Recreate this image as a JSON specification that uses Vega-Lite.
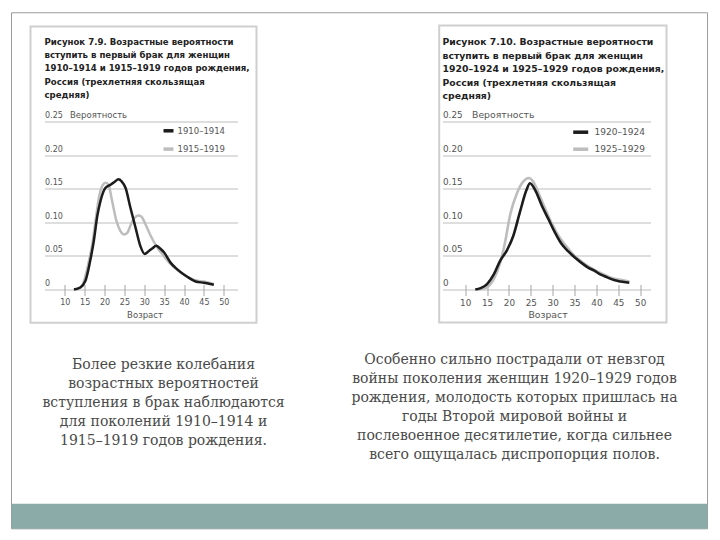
{
  "$schema": "https://vega.github.io/schema/vega-lite/v6.json",
  "background": "white",
  "padding": {"left": 10.5, "top": 11.5, "right": 12.5, "bottom": 11.5},
  "bounds": "flush",
  "spacing": 205,
  "config": {"view": {"stroke": null}},
  "resolve": {"scale": {"color": "independent"}, "legend": {"color": "independent"}},
  "hconcat": [
    {
      "width": 193,
      "height": 168,
      "resolve": {"axis": {"x": "independent", "y": "independent"}},
      "layer": [
        {
          "data": {"values": [
            {"cohort": "1915–1919", "age": 12.7, "p": 0},
            {"cohort": "1915–1919", "age": 14.0, "p": 0.003},
            {"cohort": "1915–1919", "age": 14.8, "p": 0.012},
            {"cohort": "1915–1919", "age": 15.8, "p": 0.035},
            {"cohort": "1915–1919", "age": 16.9, "p": 0.067},
            {"cohort": "1915–1919", "age": 17.8, "p": 0.105},
            {"cohort": "1915–1919", "age": 18.6, "p": 0.137},
            {"cohort": "1915–1919", "age": 19.5, "p": 0.155},
            {"cohort": "1915–1919", "age": 20.3, "p": 0.159},
            {"cohort": "1915–1919", "age": 21.0, "p": 0.156},
            {"cohort": "1915–1919", "age": 21.9, "p": 0.132},
            {"cohort": "1915–1919", "age": 23.0, "p": 0.102},
            {"cohort": "1915–1919", "age": 24.0, "p": 0.087},
            {"cohort": "1915–1919", "age": 25.0, "p": 0.082},
            {"cohort": "1915–1919", "age": 25.8, "p": 0.085},
            {"cohort": "1915–1919", "age": 26.5, "p": 0.095},
            {"cohort": "1915–1919", "age": 27.5, "p": 0.106},
            {"cohort": "1915–1919", "age": 28.5, "p": 0.11},
            {"cohort": "1915–1919", "age": 29.2, "p": 0.109},
            {"cohort": "1915–1919", "age": 30.3, "p": 0.097},
            {"cohort": "1915–1919", "age": 31.6, "p": 0.08},
            {"cohort": "1915–1919", "age": 33.2, "p": 0.063},
            {"cohort": "1915–1919", "age": 34.9, "p": 0.05},
            {"cohort": "1915–1919", "age": 36.6, "p": 0.038},
            {"cohort": "1915–1919", "age": 38.7, "p": 0.027},
            {"cohort": "1915–1919", "age": 40.8, "p": 0.019},
            {"cohort": "1915–1919", "age": 43.3, "p": 0.013},
            {"cohort": "1915–1919", "age": 45.0, "p": 0.012},
            {"cohort": "1915–1919", "age": 47.5, "p": 0.008},
            {"cohort": "1910–1914", "age": 12.3, "p": 0},
            {"cohort": "1910–1914", "age": 13.9, "p": 0.003},
            {"cohort": "1910–1914", "age": 15.2, "p": 0.013},
            {"cohort": "1910–1914", "age": 16.3, "p": 0.04},
            {"cohort": "1910–1914", "age": 17.3, "p": 0.072},
            {"cohort": "1910–1914", "age": 18.2, "p": 0.11},
            {"cohort": "1910–1914", "age": 19.0, "p": 0.132},
            {"cohort": "1910–1914", "age": 20.2, "p": 0.151},
            {"cohort": "1910–1914", "age": 21.5, "p": 0.156},
            {"cohort": "1910–1914", "age": 22.5, "p": 0.16},
            {"cohort": "1910–1914", "age": 23.5, "p": 0.164},
            {"cohort": "1910–1914", "age": 24.3, "p": 0.161},
            {"cohort": "1910–1914", "age": 25.3, "p": 0.151},
            {"cohort": "1910–1914", "age": 26.5, "p": 0.122},
            {"cohort": "1910–1914", "age": 27.8, "p": 0.092},
            {"cohort": "1910–1914", "age": 29.0, "p": 0.065},
            {"cohort": "1910–1914", "age": 30.1, "p": 0.053},
            {"cohort": "1910–1914", "age": 31.1, "p": 0.057},
            {"cohort": "1910–1914", "age": 32.0, "p": 0.061},
            {"cohort": "1910–1914", "age": 33.0, "p": 0.065},
            {"cohort": "1910–1914", "age": 34.0, "p": 0.061},
            {"cohort": "1910–1914", "age": 35.0, "p": 0.055},
            {"cohort": "1910–1914", "age": 36.6, "p": 0.04},
            {"cohort": "1910–1914", "age": 38.3, "p": 0.03},
            {"cohort": "1910–1914", "age": 40.8, "p": 0.019},
            {"cohort": "1910–1914", "age": 42.9, "p": 0.012},
            {"cohort": "1910–1914", "age": 45.0, "p": 0.01},
            {"cohort": "1910–1914", "age": 47.5, "p": 0.007}
          ]},
          "mark": {"type": "line", "interpolate": "monotone", "strokeWidth": 2.5},
          "encoding": {
            "x": {"field": "age", "type": "quantitative", "scale": {"domain": [4.9, 53.45], "nice": false, "zero": false},
              "axis": {"orient": "bottom", "title": "Возраст", "values": [10, 15, 20, 25, 30, 35, 40, 45, 50], "labelOverlap": false, "domain": false, "grid": false, "ticks": true, "tickSize": 11, "tickColor": "#a5a5a5", "tickWidth": 1, "offset": -5, "labelPadding": 3, "labelFont": "DejaVu Sans", "labelFontSize": 8, "labelColor": "#555", "labelFlush": false, "titleFont": "DejaVu Sans", "titleFontSize": 8.5, "titleFontWeight": "normal", "titleColor": "#555", "titleX": 100, "titleY": 30, "titleBaseline": "middle"}},
            "y": {"field": "p", "type": "quantitative", "scale": {"domain": [0, 0.25], "nice": false},
              "axis": {"orient": "left", "title": "Вероятность", "values": [0, 0.05, 0.1, 0.15, 0.2, 0.25], "labelOverlap": false, "grid": true, "gridColor": "#bdbdbd", "gridWidth": 1, "domain": false, "ticks": false, "labelAlign": "left", "labelPadding": 0, "labelBaseline": "alphabetic", "labelOffset": -4, "labelFont": "DejaVu Sans", "labelFontSize": 8, "labelColor": "#555", "labelExpr": "datum.value == 0 ? '\u00a0\u00a0\u00a0\u00a0\u00a00' : format(datum.value, '.2f')", "titleAngle": 0, "titleAlign": "left", "titleBaseline": "alphabetic", "titleX": 25, "titleY": -4, "titleFont": "DejaVu Sans", "titleFontSize": 8.5, "titleFontWeight": "normal", "titleColor": "#555"}},
            "color": {"field": "cohort", "type": "nominal", "scale": {"domain": ["1910–1914", "1915–1919"], "range": ["#1c1c1c", "#bdbdbd"]},
              "legend": {"orient": "none", "legendX": 117, "legendY": 2.3, "title": null, "symbolType": "stroke", "symbolSize": 100, "symbolStrokeWidth": 3.5, "labelFont": "DejaVu Sans", "labelFontSize": 8.5, "labelColor": "#555", "rowPadding": 4.3, "padding": 0, "labelOffset": 2}}
          }
        },
        {
          "data": {"values": [{}]},
          "mark": {"type": "rect", "filled": false, "stroke": "#9a9a9a", "strokeWidth": 1},
          "encoding": {
            "x": {"datum": -3.4, "type": "quantitative", "scale": {"domain": [4.9, 53.45], "nice": false, "zero": false}, "axis": null},
            "x2": {"datum": 171.69},
            "y": {"datum": 0.4118, "type": "quantitative", "scale": {"domain": [0, 0.25], "nice": false}, "axis": null},
            "y2": {"datum": -0.3561}
          }
        },
        {
          "data": {"values": [{}]},
          "mark": {"type": "rect", "fill": "#8aaba8"},
          "encoding": {
            "x": {"datum": -3.4, "type": "quantitative", "scale": {"domain": [4.9, 53.45], "nice": false, "zero": false}, "axis": null},
            "x2": {"datum": 171.69},
            "y": {"datum": -0.3189, "type": "quantitative", "scale": {"domain": [0, 0.25], "nice": false}, "axis": null},
            "y2": {"datum": -0.3561}
          }
        },
        {
          "data": {"values": [{}]},
          "mark": {"type": "rect", "filled": false, "stroke": "#cfcfcf", "strokeWidth": 2},
          "encoding": {
            "x": {"datum": 1.38, "type": "quantitative", "scale": {"domain": [4.9, 53.45], "nice": false, "zero": false}, "axis": null},
            "x2": {"datum": 58.23},
            "y": {"datum": 0.3914, "type": "quantitative", "scale": {"domain": [0, 0.25], "nice": false}, "axis": null},
            "y2": {"datum": -0.0496}
          }
        },
        {
          "data": {"values": [{}]},
          "mark": {"type": "text", "text": ["Рисунок 7.9. Возрастные вероятности", "вступить в первый брак для женщин", "1910–1914 и 1915–1919 годов рождения,", "Россия (трехлетняя скользящая", "средняя)"], "font": "DejaVu Sans", "fontSize": 8.6, "fontWeight": "bold", "lineHeight": 13.45, "align": "left", "baseline": "middle", "color": "#222"},
          "encoding": {
            "x": {"datum": 4.9, "type": "quantitative", "scale": {"domain": [4.9, 53.45], "nice": false, "zero": false}, "axis": null},
            "y": {"datum": 0.369, "type": "quantitative", "scale": {"domain": [0, 0.25], "nice": false}, "axis": null}
          }
        },
        {
          "data": {"values": [{}]},
          "mark": {"type": "text", "text": ["Более резкие колебания", "возрастных вероятностей", "вступления в брак наблюдаются", "для поколений 1910–1914 и", "1915–1919 годов рождения."], "font": "DejaVu Serif", "fontSize": 14, "lineHeight": 19, "align": "center", "baseline": "middle", "color": "#4a4a4a"},
          "encoding": {
            "x": {"datum": 34.84, "type": "quantitative", "scale": {"domain": [4.9, 53.45], "nice": false, "zero": false}, "axis": null},
            "y": {"datum": -0.1121, "type": "quantitative", "scale": {"domain": [0, 0.25], "nice": false}, "axis": null}
          }
        }
      ]
    },
    {
      "width": 208,
      "height": 168,
      "resolve": {"axis": {"x": "independent", "y": "independent"}},
      "layer": [
        {
          "data": {"values": [
            {"cohort": "1925–1929", "age": 12.7, "p": 0},
            {"cohort": "1925–1929", "age": 14.5, "p": 0.002},
            {"cohort": "1925–1929", "age": 15.5, "p": 0.006},
            {"cohort": "1925–1929", "age": 16.5, "p": 0.015},
            {"cohort": "1925–1929", "age": 18.0, "p": 0.04},
            {"cohort": "1925–1929", "age": 19.1, "p": 0.07},
            {"cohort": "1925–1929", "age": 20.3, "p": 0.112},
            {"cohort": "1925–1929", "age": 21.8, "p": 0.143},
            {"cohort": "1925–1929", "age": 23.3, "p": 0.161},
            {"cohort": "1925–1929", "age": 24.5, "p": 0.166},
            {"cohort": "1925–1929", "age": 25.6, "p": 0.16},
            {"cohort": "1925–1929", "age": 26.8, "p": 0.143},
            {"cohort": "1925–1929", "age": 28.3, "p": 0.12},
            {"cohort": "1925–1929", "age": 29.8, "p": 0.098},
            {"cohort": "1925–1929", "age": 31.3, "p": 0.08},
            {"cohort": "1925–1929", "age": 32.9, "p": 0.066},
            {"cohort": "1925–1929", "age": 34.4, "p": 0.054},
            {"cohort": "1925–1929", "age": 36.7, "p": 0.041},
            {"cohort": "1925–1929", "age": 39.0, "p": 0.031},
            {"cohort": "1925–1929", "age": 41.2, "p": 0.024},
            {"cohort": "1925–1929", "age": 43.5, "p": 0.017},
            {"cohort": "1925–1929", "age": 45.8, "p": 0.014},
            {"cohort": "1925–1929", "age": 47.5, "p": 0.012},
            {"cohort": "1920–1924", "age": 12.3, "p": 0},
            {"cohort": "1920–1924", "age": 13.5, "p": 0.002},
            {"cohort": "1920–1924", "age": 15.0, "p": 0.008},
            {"cohort": "1920–1924", "age": 16.5, "p": 0.022},
            {"cohort": "1920–1924", "age": 18.0, "p": 0.043},
            {"cohort": "1920–1924", "age": 19.5, "p": 0.058},
            {"cohort": "1920–1924", "age": 21.0, "p": 0.08},
            {"cohort": "1920–1924", "age": 22.5, "p": 0.115},
            {"cohort": "1920–1924", "age": 24.0, "p": 0.148},
            {"cohort": "1920–1924", "age": 24.8, "p": 0.158},
            {"cohort": "1920–1924", "age": 26.0, "p": 0.148},
            {"cohort": "1920–1924", "age": 27.5, "p": 0.125},
            {"cohort": "1920–1924", "age": 29.0, "p": 0.105},
            {"cohort": "1920–1924", "age": 30.5, "p": 0.085},
            {"cohort": "1920–1924", "age": 32.0, "p": 0.068},
            {"cohort": "1920–1924", "age": 33.5, "p": 0.057},
            {"cohort": "1920–1924", "age": 35.0, "p": 0.048},
            {"cohort": "1920–1924", "age": 36.5, "p": 0.04},
            {"cohort": "1920–1924", "age": 38.0, "p": 0.033},
            {"cohort": "1920–1924", "age": 39.5, "p": 0.028},
            {"cohort": "1920–1924", "age": 41.0, "p": 0.022},
            {"cohort": "1920–1924", "age": 42.5, "p": 0.018},
            {"cohort": "1920–1924", "age": 44.0, "p": 0.014},
            {"cohort": "1920–1924", "age": 45.5, "p": 0.012},
            {"cohort": "1920–1924", "age": 47.5, "p": 0.01}
          ]},
          "mark": {"type": "line", "interpolate": "monotone", "strokeWidth": 2.6},
          "encoding": {
            "x": {"field": "age", "type": "quantitative", "scale": {"domain": [4.81, 52.35], "nice": false, "zero": false},
              "axis": {"orient": "bottom", "title": "Возраст", "values": [10, 15, 20, 25, 30, 35, 40, 45, 50], "labelOverlap": false, "domain": false, "grid": false, "ticks": true, "tickSize": 11, "tickColor": "#a5a5a5", "tickWidth": 1, "offset": -5, "labelPadding": 3, "labelFont": "DejaVu Sans", "labelFontSize": 8.8, "labelColor": "#555", "labelFlush": false, "titleFont": "DejaVu Sans", "titleFontSize": 9.3, "titleFontWeight": "normal", "titleColor": "#555", "titleX": 105, "titleY": 30, "titleBaseline": "middle"}},
            "y": {"field": "p", "type": "quantitative", "scale": {"domain": [0, 0.25], "nice": false},
              "axis": {"orient": "left", "title": "Вероятность", "values": [0, 0.05, 0.1, 0.15, 0.2, 0.25], "labelOverlap": false, "grid": true, "gridColor": "#bdbdbd", "gridWidth": 1, "domain": false, "ticks": false, "labelAlign": "left", "labelPadding": 0, "labelBaseline": "alphabetic", "labelOffset": -4, "labelFont": "DejaVu Sans", "labelFontSize": 8.8, "labelColor": "#555", "labelExpr": "datum.value == 0 ? '\u00a0\u00a0\u00a0\u00a0\u00a00' : format(datum.value, '.2f')", "titleAngle": 0, "titleAlign": "left", "titleBaseline": "alphabetic", "titleX": 29, "titleY": -4, "titleFont": "DejaVu Sans", "titleFontSize": 9.3, "titleFontWeight": "normal", "titleColor": "#555"}},
            "color": {"field": "cohort", "type": "nominal", "scale": {"domain": ["1920–1924", "1925–1929"], "range": ["#1c1c1c", "#bdbdbd"]},
              "legend": {"orient": "none", "legendX": 128.7, "legendY": 1.2, "title": null, "symbolType": "stroke", "symbolSize": 225, "symbolStrokeWidth": 3.5, "labelFont": "DejaVu Sans", "labelFontSize": 9, "labelColor": "#555", "rowPadding": 0, "padding": 0, "labelOffset": 4.4}}
          }
        },
        {
          "data": {"values": [{}]},
          "mark": {"type": "rect", "filled": false, "stroke": "#cfcfcf", "strokeWidth": 2},
          "encoding": {
            "x": {"datum": 4.06, "type": "quantitative", "scale": {"domain": [4.81, 52.35], "nice": false, "zero": false}, "axis": null},
            "x2": {"datum": 56.01},
            "y": {"datum": 0.3929, "type": "quantitative", "scale": {"domain": [0, 0.25], "nice": false}, "axis": null},
            "y2": {"datum": -0.0491}
          }
        },
        {
          "data": {"values": [{}]},
          "mark": {"type": "text", "text": ["Рисунок 7.10. Возрастные вероятности", "вступить в первый брак для женщин", "1920–1924 и 1925–1929 годов рождения,", "Россия (трехлетняя скользящая", "средняя)"], "font": "DejaVu Sans", "fontSize": 9.3, "fontWeight": "bold", "lineHeight": 13.4, "align": "left", "baseline": "middle", "color": "#222"},
          "encoding": {
            "x": {"datum": 4.81, "type": "quantitative", "scale": {"domain": [4.81, 52.35], "nice": false, "zero": false}, "axis": null},
            "y": {"datum": 0.3676, "type": "quantitative", "scale": {"domain": [0, 0.25], "nice": false}, "axis": null}
          }
        },
        {
          "data": {"values": [{}]},
          "mark": {"type": "text", "text": ["Особенно сильно пострадали от невзгод", "войны поколения женщин 1920–1929 годов", "рождения, молодость которых пришлась на", "годы Второй мировой войны и", "послевоенное десятилетие, когда сильнее", "всего ощущалась диспропорция полов."], "font": "DejaVu Serif", "fontSize": 14, "lineHeight": 19, "align": "center", "baseline": "middle", "color": "#4a4a4a"},
          "encoding": {
            "x": {"datum": 21.27, "type": "quantitative", "scale": {"domain": [4.81, 52.35], "nice": false, "zero": false}, "axis": null},
            "y": {"datum": -0.1042, "type": "quantitative", "scale": {"domain": [0, 0.25], "nice": false}, "axis": null}
          }
        }
      ]
    }
  ]
}
